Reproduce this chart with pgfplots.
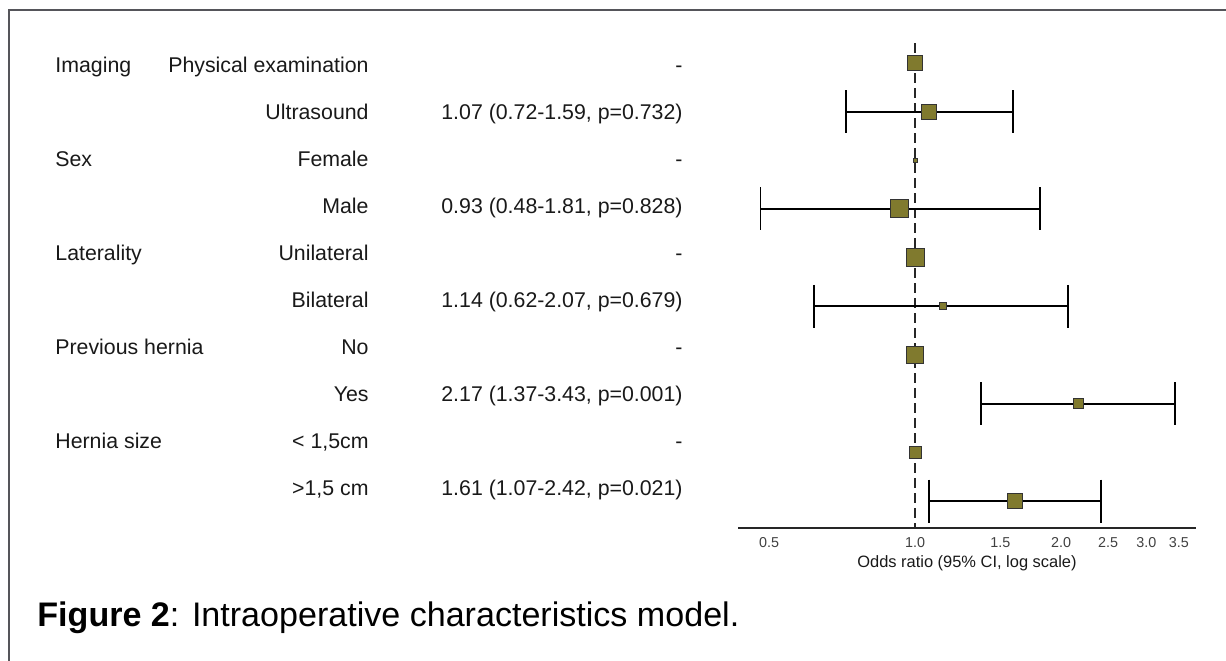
\documentclass[border=0pt]{standalone}
\usepackage{fontspec}
\setmainfont{Liberation Sans}
\usepackage{pgfplots}
\pgfplotsset{compat=1.18}
\definecolor{olive}{RGB}{128,122,46}
\definecolor{frame}{RGB}{85,85,90}
\definecolor{txt}{RGB}{25,25,25}

% row index: OR, lower, upper
\newcommand{\ci}[3]{\addplot[black, line width=0.9bp, mark=|, mark size=10.75bp,
  mark options={line width=0.9bp}] coordinates {(#2,#1) (#3,#1)};}
\newcommand{\sq}[3]{\addplot[only marks, mark=square*, mark size=#3bp,
  mark options={fill=olive, draw=black!80, line width=0.5bp}] coordinates {(#2,#1)};}

\begin{document}
\begin{tikzpicture}
\useasboundingbox (0,0) rectangle (613bp,-330.5bp);

\begin{scope}[x=0.5bp, y=-0.5bp]
  % frame
  \draw[frame, line width=1bp] (9,661) -- (9,10) -- (1226,10);

  % labels
  \begin{scope}[every node/.style={font=\fontsize{10.7}{12}\selectfont, text=txt, inner sep=0}]
    \node[anchor=base west] at (55,73)  {Imaging};
    \node[anchor=base west] at (55,167) {Sex};
    \node[anchor=base west] at (55,261) {Laterality};
    \node[anchor=base west] at (55,355) {Previous hernia};
    \node[anchor=base west] at (55,449) {Hernia size};

    \node[anchor=base east] at (369,73)  {Physical examination};
    \node[anchor=base east] at (369,120) {Ultrasound};
    \node[anchor=base east] at (369,167) {Female};
    \node[anchor=base east] at (369,214) {Male};
    \node[anchor=base east] at (369,261) {Unilateral};
    \node[anchor=base east] at (369,308) {Bilateral};
    \node[anchor=base east] at (369,355) {No};
    \node[anchor=base east] at (369,402) {Yes};
    \node[anchor=base east] at (369,449) {< 1,5cm};
    \node[anchor=base east] at (369,496) {>1,5 cm};

    \node[anchor=base east] at (683,73)  {-};
    \node[anchor=base east] at (683,120) {1.07 (0.72-1.59, p=0.732)};
    \node[anchor=base east] at (683,167) {-};
    \node[anchor=base east] at (683,214) {0.93 (0.48-1.81, p=0.828)};
    \node[anchor=base east] at (683,261) {-};
    \node[anchor=base east] at (683,308) {1.14 (0.62-2.07, p=0.679)};
    \node[anchor=base east] at (683,355) {-};
    \node[anchor=base east] at (683,402) {2.17 (1.37-3.43, p=0.001)};
    \node[anchor=base east] at (683,449) {-};
    \node[anchor=base east] at (683,496) {1.61 (1.07-2.42, p=0.021)};
  \end{scope}

  \node[font=\fontsize{8.25}{10}\selectfont, text=txt] at (967,563) {Odds ratio (95\% CI, log scale)};

  \node[anchor=base west, inner sep=0, font=\fontsize{17.1}{20}\selectfont, text=black]
    at (37,627) {\textbf{Figure 2}: Intraoperative characteristics model.};
\end{scope}

\begin{axis}[
  at={(369bp,-264bp)}, anchor=south west,
  scale only axis, width=229bp, height=242.5bp,
  xmode=log, xmin=0.4315, xmax=3.797,
  ymin=-0.41, ymax=9.555, y dir=reverse,
  axis x line=bottom, axis y line=none,
  x axis line style={-, line width=1bp, color=black!85},
  xtick={0.5,1,1.5,2,2.5,3,3.5},
  xticklabels={0.5,1.0,1.5,2.0,2.5,3.0,3.5},
  minor xtick={}, major tick length=0pt,
  xticklabel style={font=\fontsize{7.2}{8}\selectfont, text=black!75, inner sep=0,
    anchor=north, yshift=-4.5bp},
  log ticks with fixed point,
  clip=false,
]
  \addplot[black!85, line width=0.9bp, dash pattern=on 5bp off 2.5bp] coordinates {(1,-0.41) (1,9.555)};

  \ci{1}{0.72}{1.59}
  \ci{3}{0.48}{1.81}
  \ci{5}{0.62}{2.07}
  \ci{7}{1.37}{3.43}
  \ci{9}{1.07}{2.42}

  \sq{0}{1.00}{3.75}
  \sq{1}{1.07}{3.75}
  \sq{2}{1.00}{1.0}
  \sq{3}{0.93}{4.5}
  \sq{4}{1.00}{4.5}
  \sq{5}{1.14}{1.75}
  \sq{6}{1.00}{4.25}
  \sq{7}{2.17}{2.5}
  \sq{8}{1.00}{3.0}
  \sq{9}{1.61}{3.75}
\end{axis}
\end{tikzpicture}
\end{document}
